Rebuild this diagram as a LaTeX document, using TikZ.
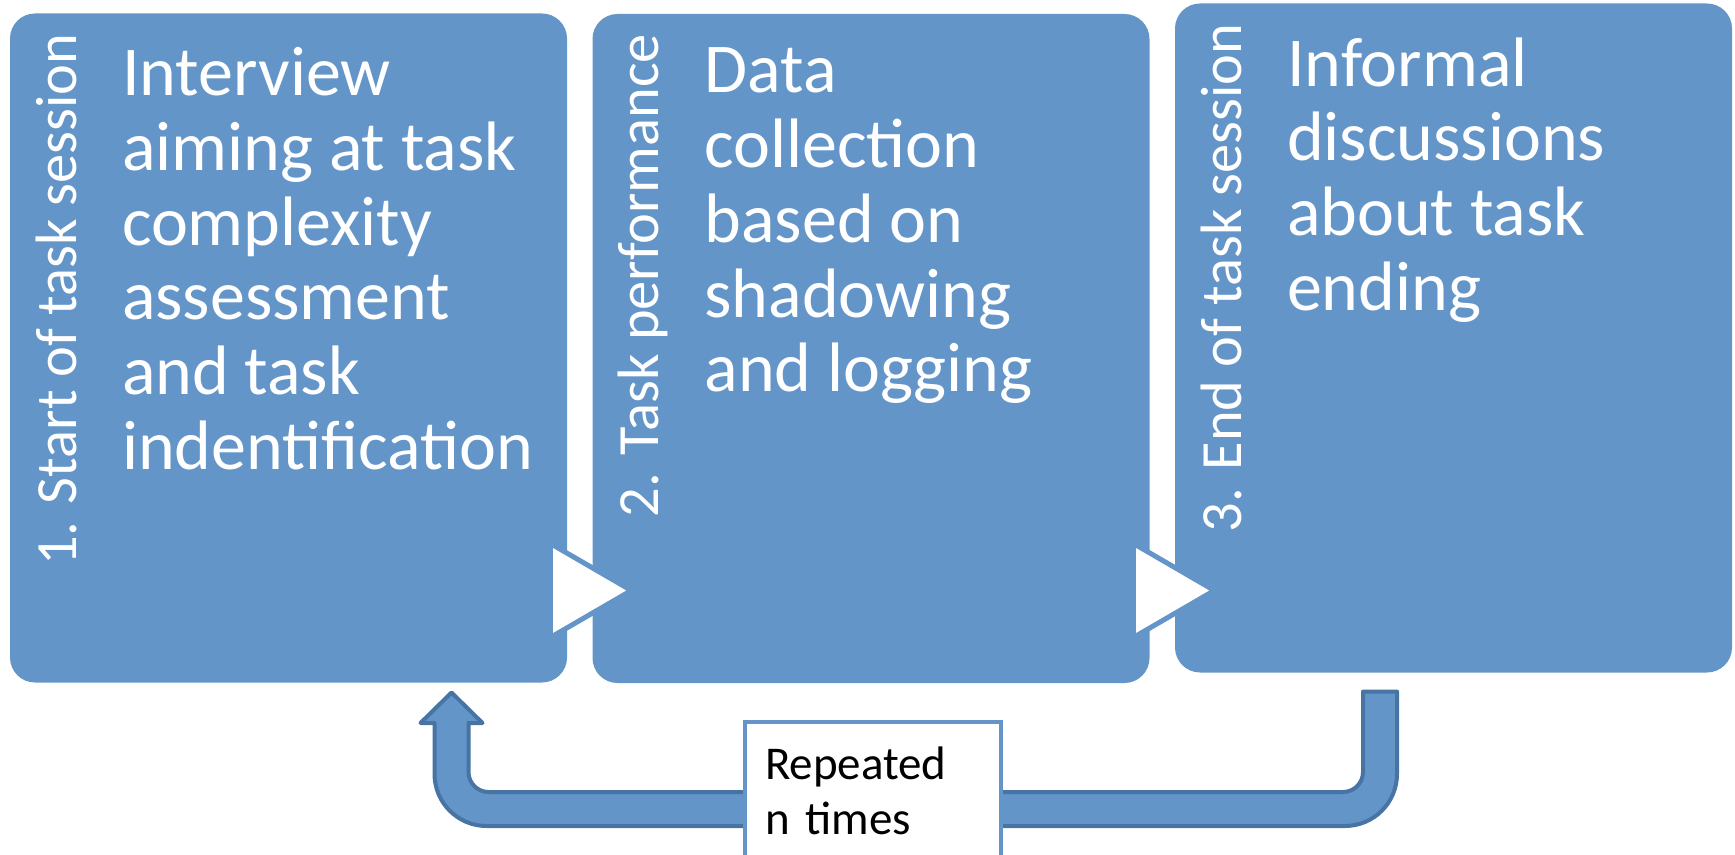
\documentclass[tikz,border=0pt]{standalone}
\usepackage{fontspec}
\setmainfont{Carlito}
\usetikzlibrary{calc}
\definecolor{cbox}{HTML}{6395C8}
\definecolor{cedge}{HTML}{4874A4}
\tikzset{
  stage/.style={rectangle, rounded corners=12.5pt, fill=cbox, draw=none, minimum width=278.5pt, minimum height=334.5pt, inner sep=0pt},
  phase/.style={rotate=90, anchor=base east, inner sep=0pt, text=white, font=\fontsize{29.2}{31}\selectfont},
  body/.style={anchor=north west, align=left, inner sep=0pt, text=white, font=\fontsize{35}{37.35}\selectfont},
  chev/.style={fill=white, draw=cbox, line width=2.5pt},
  loopback/.style={fill=cbox, draw=cedge, line width=2pt, line join=round},
  note/.style={rectangle, anchor=north west, draw=cbox, line width=2pt, fill=white, align=left, text width=108pt, inner xsep=10pt, inner ysep=12.5pt, font=\fontsize{23.5}{27.5}\selectfont},
}
\begin{document}
\begin{tikzpicture}[x=0.5pt,y=-0.5pt]
\clip (0,0) rectangle (1735,855);
% three stages
\node[stage] (b1) at (288.5,348) {};
\node[stage] (b2) at (871,348.5) {};
\node[stage] (b3) at (1453.5,338) {};
\node[phase] (p1) at ($(b1.north west)+(66.5,20)$) {1. Start of task session};
\node[phase] (p2) at ($(b2.north west)+(66.5,20)$) {2. Task performance};
\node[phase] (p3) at ($(b3.north west)+(66.5,20)$) {3. End of task session};
\node[body] (t1) at ($(b1.north west)+(112,34)$) {Interview\\aiming at task\\complexity\\assessment\\and task\\indentification};
\node[body] (t2) at ($(b2.north west)+(112,34)$) {Data\\collection\\based on\\shadowing\\and logging};
\node[body] (t3) at ($(b3.north west)+(112,34)$) {Informal\\discussions\\about task\\ending};
% white chevrons between the stages
\draw[chev] ($(b1.east)+(-17,195.5)$) -- ++(81,47) -- ++(-81,47) -- cycle;
\draw[chev] ($(b2.east)+(-16.5,195)$) -- ++(81,47) -- ++(-81,47) -- cycle;
% loop back from stage 3 to stage 1
\draw[loopback] (1363,691.5) [rounded corners=10pt] -- (1363,792) -- (468.5,792) [sharp corners] -- (468.5,723) -- (482.5,723) -- (451.5,692.5) -- (420.5,723) -- (434.5,723) [rounded corners=26pt] -- (434.5,826) -- (1397,826) [sharp corners] -- (1397,691.5) -- cycle;
\node[note] (rep) at (743,720) {Repeated\\n times};
\end{tikzpicture}
\end{document}
